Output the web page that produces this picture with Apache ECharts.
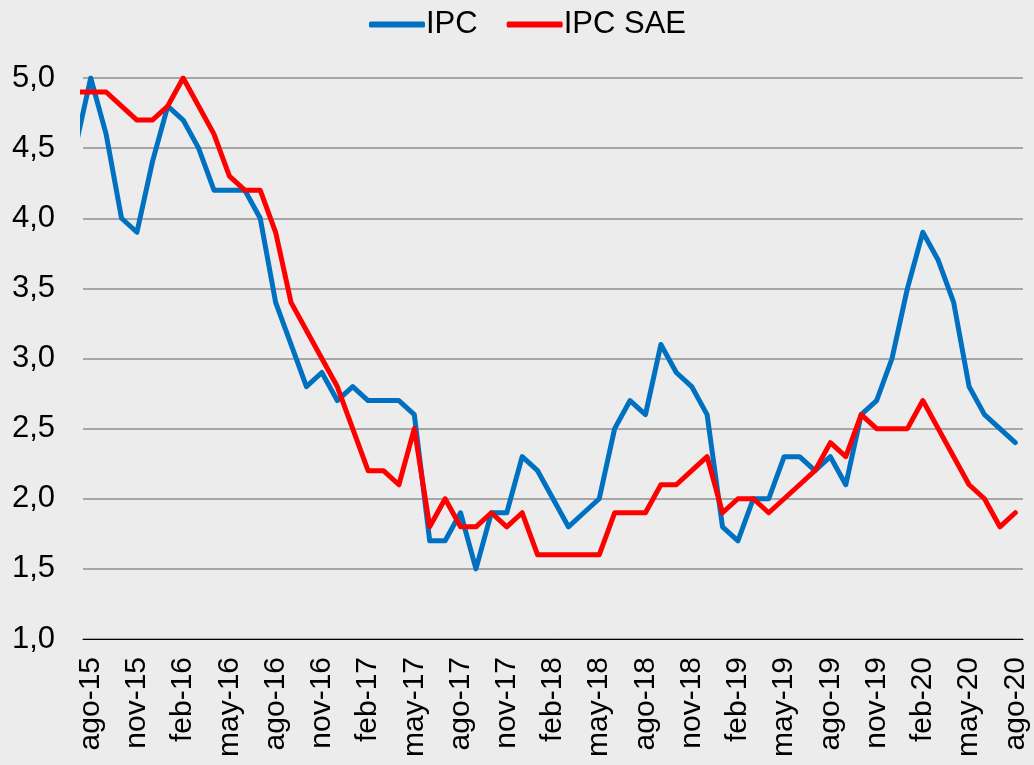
<!DOCTYPE html>
<html>
<head>
<meta charset="utf-8">
<script src="https://cdn.jsdelivr.net/npm/echarts@6/dist/echarts.min.js"></script>
<style>
  html, body { margin: 0; padding: 0; background: #ececec; }
  #chart { width: 1034px; height: 765px; }
</style>
</head>
<body>
<div id="chart"></div>
<script>
// meses: jul-15 queda fuera del eje, solo asoma el primer tramo
const months = [
  'jul-15', 'ago-15', 'sep-15', 'oct-15', 'nov-15', 'dic-15',
  'ene-16', 'feb-16', 'mar-16', 'abr-16', 'may-16', 'jun-16', 'jul-16', 'ago-16', 'sep-16', 'oct-16', 'nov-16', 'dic-16',
  'ene-17', 'feb-17', 'mar-17', 'abr-17', 'may-17', 'jun-17', 'jul-17', 'ago-17', 'sep-17', 'oct-17', 'nov-17', 'dic-17',
  'ene-18', 'feb-18', 'mar-18', 'abr-18', 'may-18', 'jun-18', 'jul-18', 'ago-18', 'sep-18', 'oct-18', 'nov-18', 'dic-18',
  'ene-19', 'feb-19', 'mar-19', 'abr-19', 'may-19', 'jun-19', 'jul-19', 'ago-19', 'sep-19', 'oct-19', 'nov-19', 'dic-19',
  'ene-20', 'feb-20', 'mar-20', 'abr-20', 'may-20', 'jun-20', 'jul-20', 'ago-20'
];

const ipc = [
  4.5, 5.0, 4.6, 4.0, 3.9, 4.4,
  4.8, 4.7, 4.5, 4.2, 4.2, 4.2, 4.0, 3.4, 3.1, 2.8, 2.9, 2.7,
  2.8, 2.7, 2.7, 2.7, 2.6, 1.7, 1.7, 1.9, 1.5, 1.9, 1.9, 2.3,
  2.2, 2.0, 1.8, 1.9, 2.0, 2.5, 2.7, 2.6, 3.1, 2.9, 2.8, 2.6,
  1.8, 1.7, 2.0, 2.0, 2.3, 2.3, 2.2, 2.3, 2.1, 2.6, 2.7, 3.0,
  3.5, 3.9, 3.7, 3.4, 2.8, 2.6, 2.5, 2.4
];

const ipcSae = [
  4.9, 4.9, 4.9, 4.8, 4.7, 4.7,
  4.8, 5.0, 4.8, 4.6, 4.3, 4.2, 4.2, 3.9, 3.4, 3.2, 3.0, 2.8,
  2.5, 2.2, 2.2, 2.1, 2.5, 1.8, 2.0, 1.8, 1.8, 1.9, 1.8, 1.9,
  1.6, 1.6, 1.6, 1.6, 1.6, 1.9, 1.9, 1.9, 2.1, 2.1, 2.2, 2.3,
  1.9, 2.0, 2.0, 1.9, 2.0, 2.1, 2.2, 2.4, 2.3, 2.6, 2.5, 2.5,
  2.5, 2.7, 2.5, 2.3, 2.1, 2.0, 1.8, 1.9
];

const labelStep = 3; // una etiqueta cada trimestre
const tickLabels = months.slice(1).filter((m, i) => i % labelStep === 0);

const font = 'Arial, "Liberation Sans", sans-serif';
// x = índice de mes, ago-15 = 0
const toPoints = arr => arr.map((v, i) => [i - 1, v]);
const labelIdx = tickLabels.map(m => months.indexOf(m) - 1);

const chart = echarts.init(document.getElementById('chart'));
chart.setOption({
  animation: false,
  backgroundColor: '#ececec',
  textStyle: { fontFamily: font },
  legend: {
    left: 364,
    top: 4,
    icon: 'roundRect',
    itemWidth: 56,
    itemHeight: 6,
    itemGap: 29,
    textStyle: { fontSize: 31, color: '#000', fontFamily: font, padding: [0, 0, 0, -4] },
    data: ['IPC', 'IPC SAE']
  },
  grid: {
    left: 83,
    right: 11,
    top: 78,
    bottom: 126,
    containLabel: false,
    outerBoundsMode: 'none'
  },
  xAxis: {
    type: 'value',
    min: -0.5,
    max: months.length - 1.5,
    splitLine: { show: false },
    axisTick: { show: false },
    axisLine: { show: true, onZero: false, lineStyle: { color: '#000', width: 1 } },
    axisLabel: {
      customValues: labelIdx,
      rotate: 90,
      margin: 18,
      fontSize: 30,
      color: '#000',
      fontFamily: font,
      formatter: v => months[Math.round(v) + 1]
    }
  },
  yAxis: {
    type: 'value',
    min: 1,
    max: 5,
    interval: 0.5,
    axisLine: { show: false },
    axisTick: { show: false },
    splitLine: { lineStyle: { color: '#a6a6a6', width: 2 } },
    axisLabel: {
      margin: 28,
      fontSize: 31,
      color: '#000',
      fontFamily: font,
      formatter: v => v.toFixed(1).replace('.', ',')
    }
  },
  series: [
    {
      name: 'IPC',
      type: 'line',
      data: toPoints(ipc),
      symbol: 'none',
      clip: true,
      color: '#0070c0',
      lineStyle: { width: 5, color: '#0070c0', cap: 'round', join: 'round' }
    },
    {
      name: 'IPC SAE',
      type: 'line',
      data: toPoints(ipcSae),
      symbol: 'none',
      clip: true,
      color: '#ff0000',
      lineStyle: { width: 5, color: '#ff0000', cap: 'round', join: 'round' }
    }
  ]
});
</script>
</body>
</html>
